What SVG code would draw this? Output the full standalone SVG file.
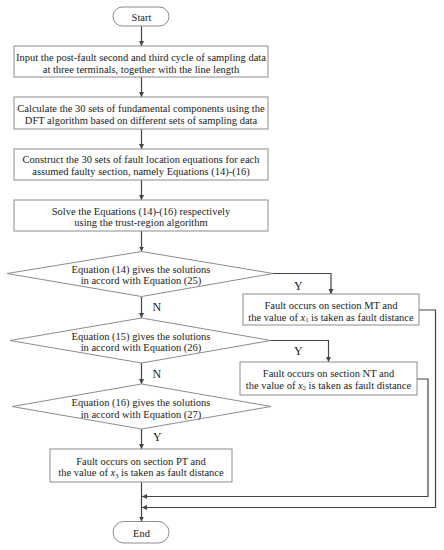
<svg xmlns="http://www.w3.org/2000/svg" width="444" height="550" viewBox="0 0 444 550">
<style>
.box{fill:#fff;stroke:#8c8c8c;stroke-width:1}
.t{font-family:"Liberation Serif","DejaVu Serif",serif;font-size:10.5px;fill:#222;text-anchor:middle}
.lbl{font-family:"Liberation Serif","DejaVu Serif",serif;font-size:12px;fill:#222}
.c{fill:none;stroke:#444;stroke-width:1.2}
.i{font-style:italic}
</style>
<defs>
<marker id="ah" markerWidth="6" markerHeight="6" refX="5" refY="3" orient="auto" markerUnits="userSpaceOnUse">
<path d="M0,0.5 L5,3 L0,5.5 Z" fill="#444"/>
</marker>
</defs>
<rect width="444" height="550" fill="#fff"/>
<g id="connectors">
<line class="c" x1="141.5" y1="26" x2="141.5" y2="46" marker-end="url(#ah)"/>
<line class="c" x1="141.5" y1="77" x2="141.5" y2="97" marker-end="url(#ah)"/>
<line class="c" x1="141.5" y1="129" x2="141.5" y2="149" marker-end="url(#ah)"/>
<line class="c" x1="141.5" y1="180" x2="141.5" y2="200" marker-end="url(#ah)"/>
<line class="c" x1="141.5" y1="231" x2="141.5" y2="251.5" marker-end="url(#ah)"/>
<line class="c" x1="141.5" y1="296.5" x2="141.5" y2="318" marker-end="url(#ah)"/>
<line class="c" x1="141.5" y1="363" x2="141.5" y2="384" marker-end="url(#ah)"/>
<line class="c" x1="141.5" y1="429" x2="141.5" y2="449" marker-end="url(#ah)"/>
<line class="c" x1="141.5" y1="482" x2="141.5" y2="521.5" marker-end="url(#ah)"/>
<polyline class="c" points="273,273.5 331,273.5 331,294" marker-end="url(#ah)"/>
<polyline class="c" points="271,340.5 328.5,340.5 328.5,362" marker-end="url(#ah)"/>
<polyline class="c" points="419,310 435.5,310 435.5,507.5 142,507.5" marker-end="url(#ah)"/>
<polyline class="c" points="417,379 428,379 428,496.5 142,496.5" marker-end="url(#ah)"/>
<text class="lbl" x="152.5" y="311">N</text>
<text class="lbl" x="152.5" y="377.5">N</text>
<text class="lbl" x="294" y="289.5">Y</text>
<text class="lbl" x="294" y="354.5">Y</text>
<text class="lbl" x="153" y="441">Y</text>
</g>
<g id="start">
<rect class="box" x="113" y="7" width="56" height="19" rx="9.5"/>
<text class="t" x="141.5" y="20.5">Start</text>
</g>
<g id="input">
<rect class="box" x="14" y="46" width="254" height="31"/>
<text class="t" x="141" y="60.5">Input the post-fault second and third cycle of sampling data</text>
<text class="t" x="141" y="73">at three terminals, together with the line length</text>
</g>
<g id="calc">
<rect class="box" x="14" y="97" width="254" height="32"/>
<text class="t" x="141" y="112">Calculate the 30 sets of fundamental components using the</text>
<text class="t" x="141" y="123.5">DFT algorithm based on different sets of sampling data</text>
</g>
<g id="construct">
<rect class="box" x="14" y="149" width="254" height="31"/>
<text class="t" x="141" y="163">Construct the 30 sets of fault location equations for each</text>
<text class="t" x="141" y="175">assumed faulty section, namely Equations (14)-(16)</text>
</g>
<g id="solve">
<rect class="box" x="14" y="200" width="254" height="31"/>
<text class="t" x="141" y="214.5">Solve the Equations (14)-(16) respectively</text>
<text class="t" x="141" y="225.5">using the trust-region algorithm</text>
</g>
<g id="d1">
<polygon class="box" points="141.5,251.5 273,273.5 141.5,296.5 7,273.5"/>
<text class="t" x="141" y="272.5">Equation (14) gives the solutions</text>
<text class="t" x="141" y="284">in accord with Equation (25)</text>
</g>
<g id="d2">
<polygon class="box" points="141.5,318 271,340.5 141.5,363 10,340.5"/>
<text class="t" x="141" y="339.5">Equation (15) gives the solutions</text>
<text class="t" x="141" y="351">in accord with Equation (26)</text>
</g>
<g id="d3">
<polygon class="box" points="141.5,384 271,406.5 141.5,429 12,406.5"/>
<text class="t" x="141" y="406">Equation (16) gives the solutions</text>
<text class="t" x="141" y="417.5">in accord with Equation (27)</text>
</g>
<g id="mt">
<rect class="box" x="243" y="294" width="176" height="31"/>
<text class="t" x="331" y="308.5">Fault occurs on section MT and</text>
<text class="t" x="331" y="320.5">the value of <tspan class="i">x</tspan><tspan font-size="6.5" dy="1.5">1</tspan><tspan dy="-1.5"> is taken as fault distance</tspan></text>
</g>
<g id="nt">
<rect class="box" x="240" y="362" width="177" height="33"/>
<text class="t" x="328.5" y="377">Fault occurs on section NT and</text>
<text class="t" x="328.5" y="388.5">the value of <tspan class="i">x</tspan><tspan font-size="6.5" dy="1.5">2</tspan><tspan dy="-1.5"> is taken as fault distance</tspan></text>
</g>
<g id="pt">
<rect class="box" x="50" y="449" width="182" height="33"/>
<text class="t" x="141" y="464.5">Fault occurs on section PT and</text>
<text class="t" x="141" y="476">the value of <tspan class="i">x</tspan><tspan font-size="6.5" dy="1.5">3</tspan><tspan dy="-1.5"> is taken as fault distance</tspan></text>
</g>
<g id="end">
<rect class="box" x="113" y="521.5" width="56" height="21.5" rx="10.75"/>
<text class="t" x="141.5" y="536.5">End</text>
</g>
</svg>
